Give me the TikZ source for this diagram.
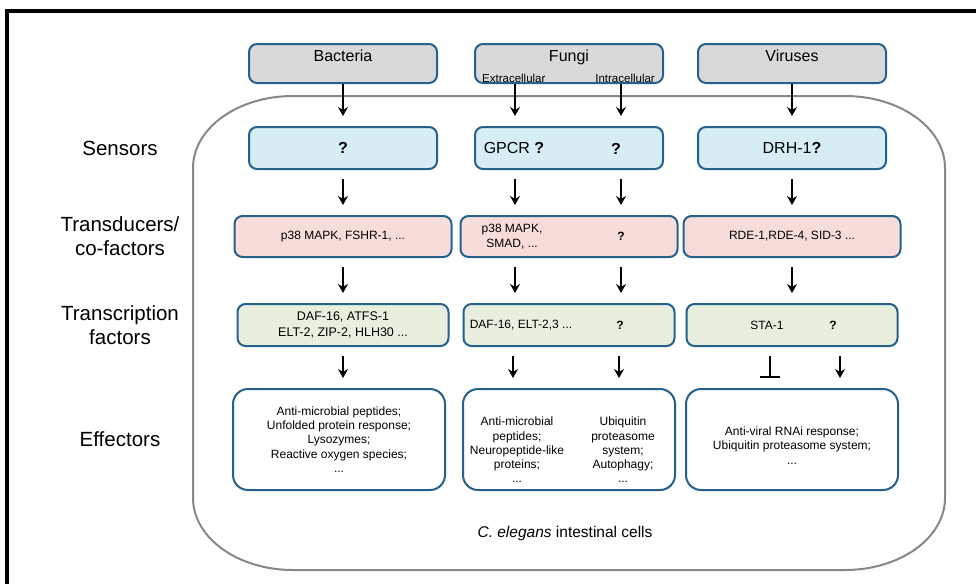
\documentclass[tikz,border=0pt]{standalone}
\usepackage{fontspec}
\setmainfont{Liberation Sans}
\usepackage{tikz}
\usetikzlibrary{arrows.meta}

\definecolor{boxline}{RGB}{38,96,140}
\definecolor{greyfill}{RGB}{217,217,217}
\definecolor{sensfill}{RGB}{214,237,244}
\definecolor{transfill}{RGB}{246,221,218}
\definecolor{tffill}{RGB}{232,239,222}
\definecolor{cellgrey}{RGB}{135,135,135}

\begin{document}
\begin{tikzpicture}[x=1pt,y=-1pt,>={Stealth[length=9pt,width=10pt,inset=3pt]},
  box/.style={draw=boxline,line width=2pt,rounded corners=8pt,inner sep=0pt,align=center},
  pathogen/.style={box,fill=greyfill,minimum width=188pt,text height=17pt,text depth=22pt,
    font=\fontsize{16}{19}\selectfont},
  sensor/.style={box,fill=sensfill,minimum width=188pt,minimum height=42pt,font=\fontsize{16}{19}\selectfont},
  trans/.style={box,fill=transfill,minimum width=217pt,minimum height=41pt,font=\fontsize{12}{14.5}\selectfont},
  tf/.style={box,fill=tffill,minimum width=211pt,minimum height=42pt,font=\fontsize{12.5}{16}\selectfont},
  effector/.style={box,fill=white,rounded corners=15pt,minimum width=212pt,minimum height=101pt,
    font=\fontsize{12}{14.3}\selectfont},
  rowlbl/.style={align=center,font=\fontsize{20.5}{24}\selectfont},
  big/.style={inner sep=0pt,font=\fontsize{16}{19}\selectfont},
  small/.style={inner sep=0pt,align=center,font=\fontsize{12}{14.3}\selectfont},
  sub/.style={inner sep=0pt,font=\fontsize{11.5}{13}\selectfont},
  flow/.style={->,line width=2pt,shorten <=9pt,shorten >=10pt}]

  \useasboundingbox (0,0) rectangle (976,584);
  \draw[line width=4pt] (976,11) -- (7,11) -- (7,584);

  % the cell
  \draw[cellgrey,line width=2pt] (293,96) -- (845,96)
    arc[start angle=90,end angle=0,x radius=100pt,y radius=72pt] -- (945,498)
    arc[start angle=0,end angle=-90,x radius=100pt,y radius=72pt] -- (293,570)
    arc[start angle=-90,end angle=-180,x radius=100pt,y radius=72pt] -- (193,168)
    arc[start angle=180,end angle=90,x radius=100pt,y radius=72pt] -- cycle;
  \node (cell) at (565,533) {\fontsize{15.5}{18}\selectfont\textit{C. elegans} intestinal cells};

  \node[pathogen] (bac) at (343,63.5) {Bacteria};
  \node[pathogen] (fun) at (569,63.5) {Fungi};
  \node[pathogen] (vir) at (792,63.5) {Viruses};
  \node[sub,anchor=base west] (fext) at ([shift={(8pt,2pt)}]fun.south west) {Extracellular};
  \node[sub,anchor=base east] (fint) at ([shift={(-9pt,2pt)}]fun.south east) {Intracellular};

  \node[sensor] (bsen) [below of=bac,node distance=84.5pt] {\textbf{?}};
  \node[sensor] (fsen) [below of=fun,node distance=84.5pt] {};
  \node[sensor] (vsen) [below of=vir,node distance=84.5pt] {DRH-1\textbf{?}};
  \node[big] (fsenA) at ([xshift=-55pt]fsen.center) {GPCR \textbf{?}};
  \node[big] (fsenB) at ([shift={(47pt,-1pt)}]fsen.center) {\textbf{?}};

  \node[trans] (btra) [below of=bsen,node distance=88.5pt] {p38 MAPK, FSHR-1, ...};
  \node[trans] (ftra) [below of=fsen,node distance=88.5pt] {};
  \node[trans] (vtra) [below of=vsen,node distance=88.5pt] {RDE-1,RDE-4, SID-3 ...};
  \node[small] (ftraA) at ([xshift=-57pt]ftra.center) {p38 MAPK,\\SMAD, ...};
  \node[small] (ftraB) at ([xshift=52pt]ftra.center) {\textbf{?}};

  \node[tf] (btf) [below of=btra,node distance=88.5pt] {DAF-16, ATFS-1\\ELT-2, ZIP-2, HLH30 ...};
  \node[tf] (ftf) [below of=ftra,node distance=88.5pt] {};
  \node[tf] (vtf) [below of=vtra,node distance=88.5pt] {};
  \node[small] (ftfA) at ([xshift=-48pt]ftf.center) {DAF-16, ELT-2,3 ...};
  \node[small] (ftfB) at ([xshift=51pt]ftf.center) {\textbf{?}};
  \node[small] (vtfA) at ([xshift=-25pt]vtf.center) {STA-1};
  \node[small] (vtfB) at ([xshift=41pt]vtf.center) {\textbf{?}};

  \node[effector] (beff) [below of=btf,node distance=114.5pt,xshift=-4pt]
    {Anti-microbial peptides;\\Unfolded protein response;\\Lysozymes;\\Reactive oxygen species;\\...};
  \node[effector] (feff) [below of=ftf,node distance=114.5pt] {};
  \node[effector] (veff) [below of=vtf,node distance=114.5pt] {};
  \node[small] (feffA) at ([shift={(-52pt,-10.5pt)}]feff.center)
    {Anti-microbial\\peptides;\\Neuropeptide-like\\proteins;\\...};
  \node[small] (feffB) at ([shift={(54pt,-10.5pt)}]feff.center)
    {Ubiquitin\\proteasome\\system;\\Autophagy;\\...};
  \node[small] (veffT) at ([yshift=-6pt]veff.center)
    {Anti-viral RNAi response;\\Ubiquitin proteasome system;\\...};

  \node[rowlbl] (lsen) [left of=bsen,node distance=223pt] {Sensors};
  \node[rowlbl] (ltra) [left of=btra,node distance=223pt] {Transducers/\\co-factors};
  \node[rowlbl] (ltf)  [left of=btf,node distance=223pt] {Transcription\\factors};
  \node[rowlbl] (leff) [left of=beff,node distance=219pt] {Effectors};

  \path[flow,shorten <=0pt]
    (bac) edge (bsen)
    ([xshift=-54pt]fun.south) edge ([xshift=-54pt]fsen.north)
    ([xshift=52pt]fun.south) edge ([xshift=52pt]fsen.north)
    (vir) edge (vsen);
  \path[flow]
    (bsen) edge (btra)
    ([xshift=-54pt]fsen.south) edge ([xshift=-54pt]ftra.north)
    ([xshift=52pt]fsen.south) edge ([xshift=52pt]ftra.north)
    (vsen) edge (vtra)
    (btra) edge (btf)
    ([xshift=-54pt]ftra.south) edge ([xshift=-54pt]ftf.north)
    ([xshift=52pt]ftra.south) edge ([xshift=52pt]ftf.north)
    (vtra) edge (vtf)
    (btf.south) edge (btf.south |- beff.north)
    ([xshift=-56pt]ftf.south) edge ([xshift=-56pt]ftf.south |- feff.north)
    ([xshift=50pt]ftf.south) edge ([xshift=50pt]ftf.south |- feff.north)
    ([xshift=-22pt]vtf.south) edge[-{Bar[width=20pt]}] ([xshift=-22pt]vtf.south |- veff.north)
    ([xshift=48pt]vtf.south) edge ([xshift=48pt]vtf.south |- veff.north);

\end{tikzpicture}
\end{document}
